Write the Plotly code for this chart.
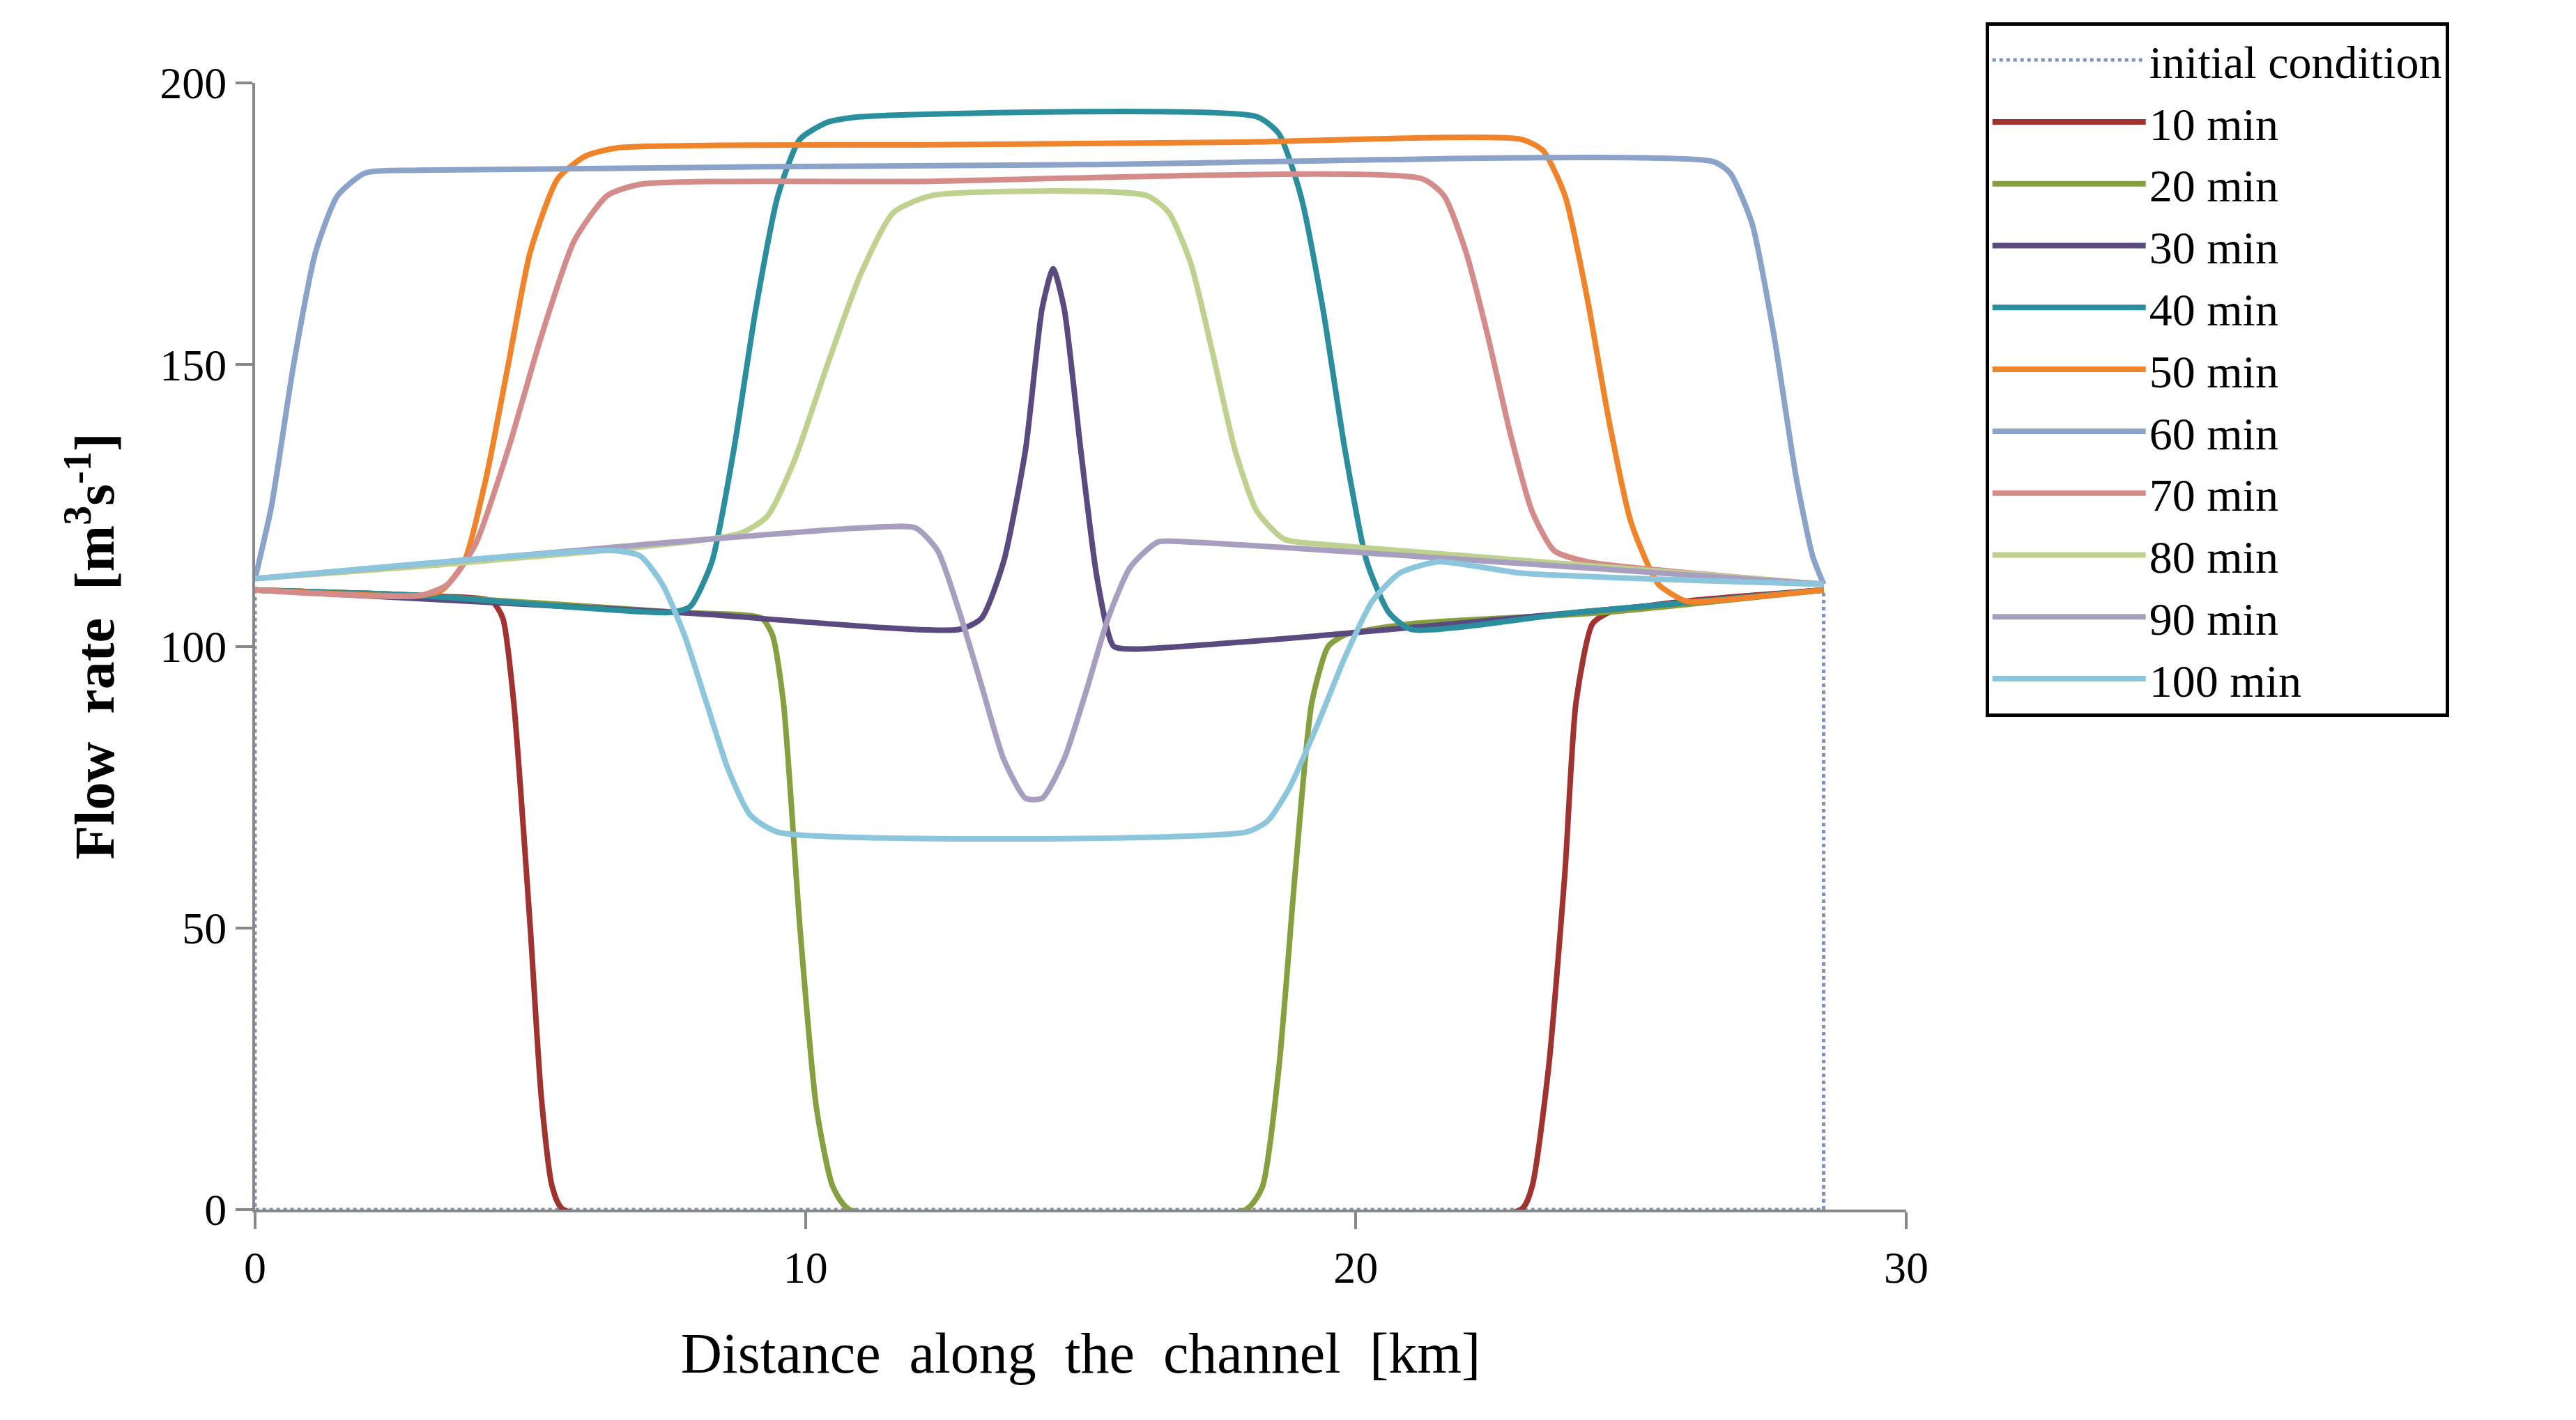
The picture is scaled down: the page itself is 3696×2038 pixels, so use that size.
import plotly.graph_objects as go

names = ["initial condition","10 min","20 min","30 min","40 min","50 min","60 min","70 min","80 min","90 min","100 min"]
colors = ["#7B93BF","#A0332F","#86A040","#5A4A80","#2A8E9C","#F0842A","#8CA3C9","#D48C8A","#BFD18F","#A89FC0","#8CC6DC"]

x_init = [0,0,28.5,28.5]; y_init = [110,0,0,110]
x10 = [0,3,4.3,4.5,4.7,5.0,5.2,5.4,5.6,23.0,23.2,23.5,23.8,24.0,24.3,24.6,26,28.5]
y10 = [110,109,108,105,90,50,20,4,0,0,4,25,60,90,104,106,108,110]
x20 = [0,3,7.7,9.2,9.4,9.6,9.9,10.2,10.5,10.8,18.0,18.3,18.6,18.9,19.2,19.5,19.8,21,24.5,28.5]
y20 = [110,109,106,105,102,90,50,18,4,0,0,4,25,60,90,100,102,104,106,110]
x30 = [0,7.7,12.8,13.2,13.6,14.0,14.3,14.5,14.7,15.0,15.3,15.6,16.0,19.5,24,28.5]
y30 = [110,106,103,105,115,135,160,167,160,135,112,100,99.5,102,106,110]
x40 = [0,3,7.5,7.9,8.3,8.7,9.1,9.5,9.9,10.4,11,18.2,18.6,19.0,19.4,19.8,20.2,20.6,21,24,28.5]
y40 = [110,109,106,107,115,135,160,180,190,193,194,194,191,180,160,135,115,106,103,106,110]
x50 = [0,3,3.4,3.8,4.2,4.6,5.0,5.5,6.0,6.6,12,18,23,23.4,23.8,24.2,24.6,25.0,25.5,26.0,26.4,28.5]
y50 = [110,109,110,115,130,150,170,183,187,188.5,189,189.5,190,188,180,162,140,122,111,108,108,110]
x60 = [0,0.3,0.7,1.1,1.5,2.0,3,15,26.5,26.8,27.2,27.6,28.0,28.3,28.5]
y60 = [112,125,150,170,180,184,184.5,185.5,186,184,175,155,130,116,111]
x70 = [0,3,3.5,4.0,4.6,5.2,5.8,6.4,7.0,12,21.2,21.6,22.0,22.4,22.8,23.2,23.6,24.2,28.5]
y70 = [110,109,111,118,135,155,172,180,182,182.5,183,180,170,155,138,124,117,115,111]
x80 = [0,4,8.8,9.3,9.8,10.4,11.0,11.6,12.3,16.2,16.6,17.0,17.4,17.8,18.2,18.7,19.5,28.5]
y80 = [112,115,120,123,133,150,166,177,180,180,177,168,152,135,124,119,118,111]
x90 = [0,7,11,12,12.4,12.8,13.2,13.6,14.0,14.3,14.7,15.1,15.5,15.9,16.4,17,28.5]
y90 = [112,118,121,121,117,106,93,80,73,73,80,92,105,114,118.5,118.5,111]
x100 = [0,6.5,7.0,7.4,7.8,8.2,8.6,9.0,9.5,18,18.4,18.8,19.3,19.8,20.3,20.8,21.5,23,28.5]
y100 = [112,117,116,111,102,90,78,70,67,67,69,75,86,98,108,113,115,113,111]

xs = [x_init,x10,x20,x30,x40,x50,x60,x70,x80,x90,x100]
ys = [y_init,y10,y20,y30,y40,y50,y60,y70,y80,y90,y100]

fig = go.Figure()
for i,(n,c,x,y) in enumerate(zip(names,colors,xs,ys)):
    if i == 0:
        fig.add_trace(go.Scatter(x=x,y=y,name=n,mode="lines",line=dict(color=c,width=5,dash="dot")))
    else:
        fig.add_trace(go.Scatter(x=x,y=y,name=n,mode="lines",line=dict(color=c,width=8,shape="spline",smoothing=0.6)))

font = "Liberation Serif"
fig.update_layout(
    width=3696,height=2038,plot_bgcolor="white",paper_bgcolor="white",
    margin=dict(l=358,r=969,t=111,b=310),
    font=dict(family=font,size=64,color="black"),
    showlegend=True,
    legend=dict(x=1.048,y=1.054,xanchor="left",yanchor="top",bordercolor="black",borderwidth=5,
                font=dict(family=font,size=66),tracegroupgap=0,itemwidth=220,bgcolor="white"),
    xaxis=dict(range=[0,30],tickvals=[0,10,20,30],showline=True,linecolor="#888888",linewidth=4,
               ticks="outside",ticklen=24,tickwidth=4,tickcolor="#888888",showgrid=False,zeroline=False,
               title=dict(text="Distance  along  the  channel  [km]",font=dict(size=82),standoff=60)),
    yaxis=dict(range=[0,200],tickvals=[0,50,100,150,200],showline=True,linecolor="#888888",linewidth=4,
               ticks="outside",ticklen=24,tickwidth=4,tickcolor="#888888",showgrid=False,zeroline=False,
               title=dict(text="<b>Flow  rate  [m<sup>3</sup>s<sup>-1</sup>]</b>",font=dict(size=80),standoff=40)),
)
fig.write_html("out.html")
